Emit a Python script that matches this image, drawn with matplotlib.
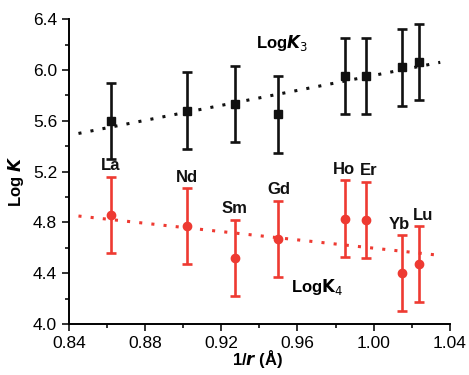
import numpy as np
import matplotlib
matplotlib.use("Agg")
import matplotlib.pyplot as plt
from matplotlib.ticker import MultipleLocator

plt.rcParams["font.family"] = ["Liberation Sans", "DejaVu Sans"]

# values
elements = ["La", "Nd", "Sm", "Gd", "Ho", "Er", "Yb", "Lu"]
inv_r = [0.862, 0.902, 0.927, 0.950, 0.985, 0.996, 1.015, 1.024]
logk3 = [5.60, 5.68, 5.73, 5.65, 5.95, 5.95, 6.02, 6.06]
logk4 = [4.86, 4.77, 4.52, 4.67, 4.83, 4.82, 4.40, 4.47]
err = 0.30
fit_x = [0.845, 1.035]
fit_k3 = [5.50, 6.06]
fit_k4 = [4.85, 4.54]

BLACK = "#111111"
RED = "#ee3a32"

fig = plt.figure(figsize=(4.69, 3.75), dpi=100)
ax = fig.add_axes([0.147, 0.136, 0.812, 0.813])

ax.plot(fit_x, fit_k3, color=BLACK, lw=2.2, ls=(0, (1, 3)), zorder=1)
ax.plot(fit_x, fit_k4, color=RED, lw=2.2, ls=(0, (1, 3)), zorder=1)

ax.errorbar(inv_r, logk3, yerr=err, fmt="s", color=BLACK, ms=5.5, elinewidth=1.9,
            capsize=3.5, capthick=1.9, zorder=3)
ax.errorbar(inv_r, logk4, yerr=err, fmt="o", color=RED, ms=6, elinewidth=1.9,
            capsize=3.5, capthick=1.9, zorder=3)

# element labels sit just above the red caps; a few nudged sideways like the original
nudge = {"Ho": -1, "Er": 2, "Yb": -2, "Lu": 3}
for el, x, y in zip(elements, inv_r, logk4):
    ax.annotate(el, (x, y + err), xytext=(nudge.get(el, 0), 2.5), textcoords="offset points",
                ha="center", va="bottom", fontsize=12, fontweight="bold", color=BLACK)

ax.text(0.952, 6.21, r"Log$\mathbfit{K}_3$", fontsize=12, fontweight="bold",
        ha="center", va="center")
ax.text(0.9705, 4.29, r"Log$\mathbf{K}_4$", fontsize=12, fontweight="bold",
        ha="center", va="center")

ax.set_xlim(0.84, 1.04)
ax.set_ylim(4.0, 6.4)
ax.xaxis.set_major_locator(MultipleLocator(0.04))
ax.xaxis.set_minor_locator(MultipleLocator(0.02))
ax.yaxis.set_major_locator(MultipleLocator(0.4))
ax.yaxis.set_minor_locator(MultipleLocator(0.2))
ax.xaxis.set_major_formatter(matplotlib.ticker.FormatStrFormatter("%.2f"))
ax.yaxis.set_major_formatter(matplotlib.ticker.FormatStrFormatter("%.1f"))
ax.tick_params(which="major", length=5, width=1.3, labelsize=12.5, color="#222222")
ax.tick_params(which="minor", length=3, width=1.3, color="#222222")
for sp in ("top", "right"):
    ax.spines[sp].set_visible(False)
for sp in ("left", "bottom"):
    ax.spines[sp].set_linewidth(1.4)

ax.set_xlabel(r"1/$\mathbfit{r}$ (Å)", fontsize=12, fontweight="bold")
ax.set_ylabel(r"Log $\mathbfit{K}$", fontsize=12, fontweight="bold")
ax.xaxis.set_label_coords(0.496, -0.078)
ax.yaxis.set_label_coords(-0.112, 0.466)

fig.savefig("out.png", dpi=100)
